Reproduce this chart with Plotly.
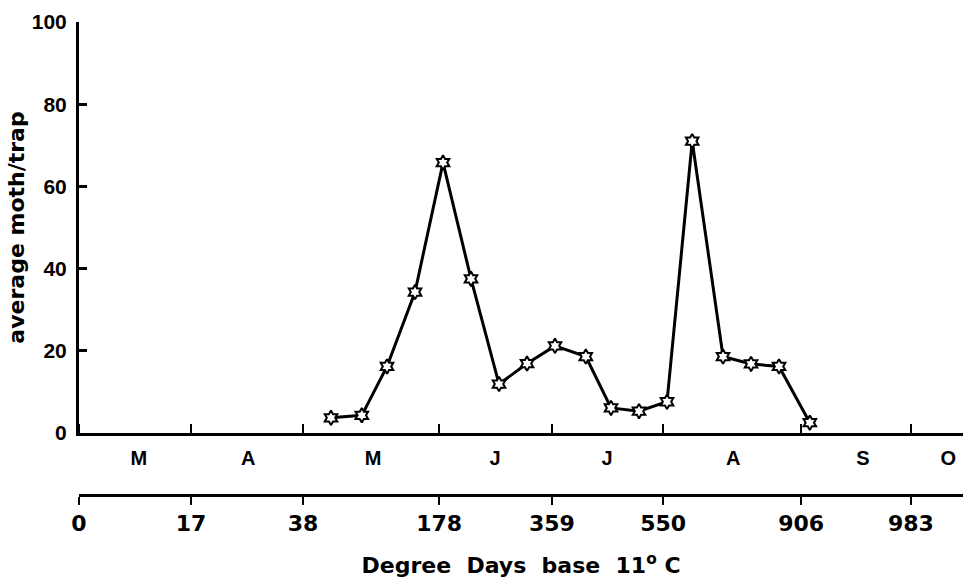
import plotly.graph_objects as go

# Sampling dates (position along the season axis, in weeks from 1 March)
weeks = [9.0, 10.1, 11.0, 12.0, 13.0, 14.0, 15.0, 16.0, 17.0, 18.1,
         19.0, 20.0, 21.0, 21.9, 23.0, 24.0, 25.0, 26.1]
moths = [3.7, 4.3, 16.2, 34.3, 65.8, 37.5, 11.9, 16.9, 21.2, 18.6,
         6.1, 5.3, 7.6, 71.0, 18.6, 16.8, 16.2, 2.5]

# Month boundaries (same positions carry the cumulative degree-day labels)
month_bounds = [0, 4.0, 8.0, 12.86, 16.89, 20.86, 25.79, 29.71]
month_mid = [2.14, 6.04, 10.5, 14.86, 18.86, 23.36, 28.0, 31.04]
month_labels = ["M", "A", "M", "J", "J", "A", "S", "O"]
degree_days = ["0", "17", "38", "178", "359", "550", "906", "983"]
y_ticks = [0, 20, 40, 60, 80, 100]

x_max = 31.57
lib = "Liberation Sans"
dvs = "DejaVu Sans"

fig = go.Figure()
fig.add_trace(go.Scatter(
    x=weeks, y=moths, mode="lines+markers",
    line=dict(color="black", width=3),
    marker=dict(symbol="hexagram", size=11, color="white",
                line=dict(color="black", width=2)),
    showlegend=False, cliponaxis=False,
))
# invisible trace to activate the degree-day axis
fig.add_trace(go.Scatter(x=[0, x_max], y=[None, None], xaxis="x2",
                         showlegend=False, hoverinfo="skip"))

fig.update_layout(
    width=963, height=581,
    margin=dict(l=79, r=0, t=22, b=86),
    paper_bgcolor="white", plot_bgcolor="white",
    font=dict(family=lib, color="black"),
    xaxis=dict(
        range=[0, x_max], anchor="y",
        showline=True, linecolor="black", linewidth=3,
        showgrid=False, zeroline=False,
        tickmode="array", tickvals=month_mid, ticktext=month_labels,
        ticks="", ticklabelstandoff=5,
        tickfont=dict(size=20, family=lib, weight="bold"),
        minor=dict(tickmode="array", tickvals=month_bounds,
                   ticks="inside", ticklen=9, tickwidth=2, tickcolor="black"),
    ),
    xaxis2=dict(
        range=[0, x_max], overlaying="x", anchor="free", position=0,
        side="bottom",
        showline=True, linecolor="black", linewidth=3,
        showgrid=False, zeroline=False,
        tickmode="array", tickvals=month_bounds, ticktext=degree_days,
        ticks="outside", ticklen=8, tickwidth=2, tickcolor="black",
        tickfont=dict(size=22, family=dvs, weight="bold"),
        title=dict(text="Degree  Days  base  11<sup>o</sup> C",
                   font=dict(size=22, family=dvs, weight="bold"),
                   standoff=22),
    ),
    yaxis=dict(
        range=[0, 100], domain=[0.1311, 1],
        showline=True, linecolor="black", linewidth=3,
        showgrid=False, zeroline=False,
        tickmode="array", tickvals=y_ticks,
        ticks="inside", ticklen=8, tickwidth=3, tickcolor="black",
        ticklabelstandoff=5,
        tickfont=dict(size=21, family=lib, weight="bold"),
        title=dict(text="average moth/trap",
                   font=dict(size=22, family=dvs, weight="bold"),
                   standoff=2),
    ),
)

fig.write_html("out.html")
